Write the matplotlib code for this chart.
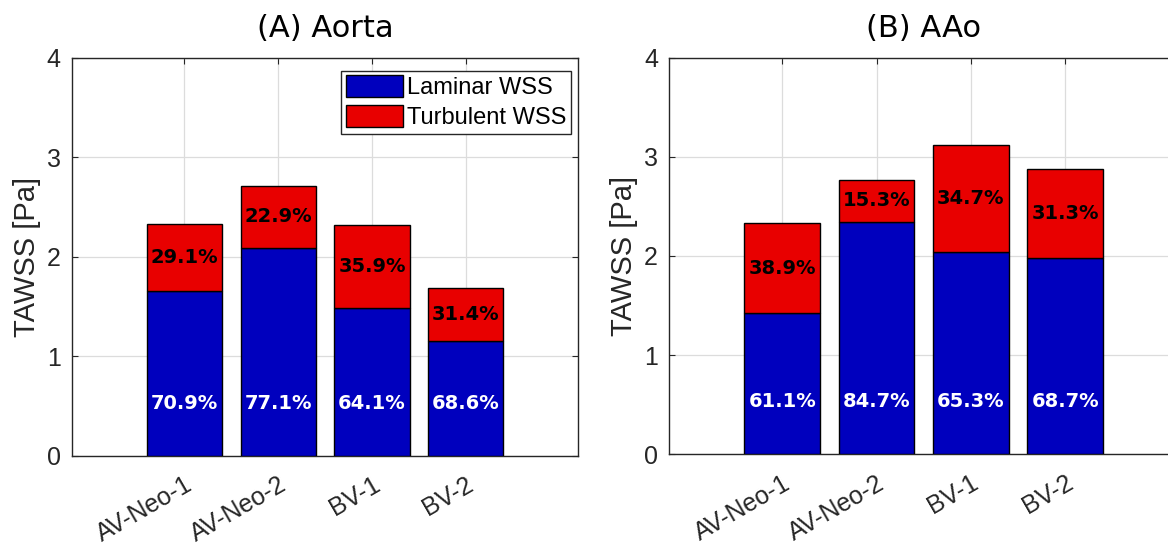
import numpy as np
import matplotlib.pyplot as plt
import matplotlib.transforms as mtransforms

cases = ["AV-Neo-1", "AV-Neo-2", "BV-1", "BV-2"]
y_ticks = [0, 1, 2, 3, 4]

# total TAWSS per case and the laminar / turbulent shares of it
aorta_total = [2.335, 2.715, 2.32, 1.685]
aorta_laminar_pct = [70.9, 77.1, 64.1, 68.6]
aorta_turbulent_pct = [29.1, 22.9, 35.9, 31.4]

aao_total = [2.33, 2.77, 3.12, 2.88]
aao_laminar_pct = [61.1, 84.7, 65.3, 68.7]
aao_turbulent_pct = [38.9, 15.3, 34.7, 31.3]

BLUE = "#0000BE"
RED = "#E80000"
DARK = "#262626"
AXIS_FONT = "Liberation Sans"
TEXT_FONT = "DejaVu Sans"


def draw_panel(fig, ax, title, total, lam_pct, turb_pct, legend=False):
    """Stacked laminar/turbulent TAWSS bars with percentage labels."""
    x = np.arange(1, len(cases) + 1)
    total = np.asarray(total)
    laminar = total * np.asarray(lam_pct) / 100
    turbulent = total - laminar

    ax.bar(x, laminar, 0.8, color=BLUE, edgecolor="black", linewidth=1,
           label="Laminar WSS", zorder=3)
    ax.bar(x, turbulent, 0.8, bottom=laminar, color=RED, edgecolor="black",
           linewidth=1, label="Turbulent WSS", zorder=3)

    for xi, lam, tur, lp, tp in zip(x, laminar, turbulent, lam_pct, turb_pct):
        ax.text(xi, 0.53, f"{lp:.1f}%", color="white", ha="center",
                va="center", fontsize=14, fontweight="bold",
                family=TEXT_FONT, zorder=4)
        ax.text(xi, lam + tur / 2, f"{tp:.1f}%", color="black", ha="center",
                va="center", fontsize=14, fontweight="bold",
                family=TEXT_FONT, zorder=4)

    ax.set_xlim(-0.2, 5.2)
    ax.set_ylim(0, 4)
    ax.set_yticks(y_ticks)
    ax.set_yticklabels([str(t) for t in y_ticks], fontsize=18,
                       family=AXIS_FONT, color=DARK)
    ax.set_xticks(x)
    ax.set_xticklabels(cases, rotation=30, ha="right", va="top",
                       rotation_mode="anchor", fontsize=18,
                       family=AXIS_FONT, color=DARK)
    # matlab puts the rotated labels a bit right of the tick
    shift = mtransforms.ScaledTranslation(9 / 72, 0, fig.dpi_scale_trans)
    for lbl in ax.get_xticklabels():
        lbl.set_transform(lbl.get_transform() + shift)

    ax.tick_params(axis="both", direction="in", length=4, width=0.8,
                   color=DARK, top=True, right=True)
    ax.tick_params(axis="x", pad=12)
    ax.tick_params(axis="y", pad=8)
    ax.grid(True, color="#dcdcdc", linewidth=0.9)
    ax.set_axisbelow(True)
    for sp in ax.spines.values():
        sp.set_color(DARK)
        sp.set_linewidth(1.0)

    ax.set_ylabel("TAWSS [Pa]", fontsize=21, family=AXIS_FONT, color=DARK,
                  labelpad=4)
    ax.set_title(title, fontsize=22, family=TEXT_FONT, color="black", pad=15)

    if legend:
        ax.legend(loc="upper right", bbox_to_anchor=(0.985, 0.968),
                  fancybox=False, framealpha=1, edgecolor=DARK,
                  prop={"family": AXIS_FONT, "size": 17},
                  handlelength=2.4, handleheight=1.0, handletextpad=0.17,
                  labelspacing=0.27, borderpad=0.2, borderaxespad=0.0)


fig = plt.figure(figsize=(11.68, 5.47), dpi=100)
ax_a = fig.add_axes([0.0616, 0.1664, 0.4335, 0.7276])
ax_b = fig.add_axes([0.5728, 0.1695, 0.4360, 0.7250])

draw_panel(fig, ax_a, "(A) Aorta", aorta_total, aorta_laminar_pct,
           aorta_turbulent_pct, legend=True)
draw_panel(fig, ax_b, "(B) AAo", aao_total, aao_laminar_pct,
           aao_turbulent_pct)

fig.savefig("out.png", dpi=100)
